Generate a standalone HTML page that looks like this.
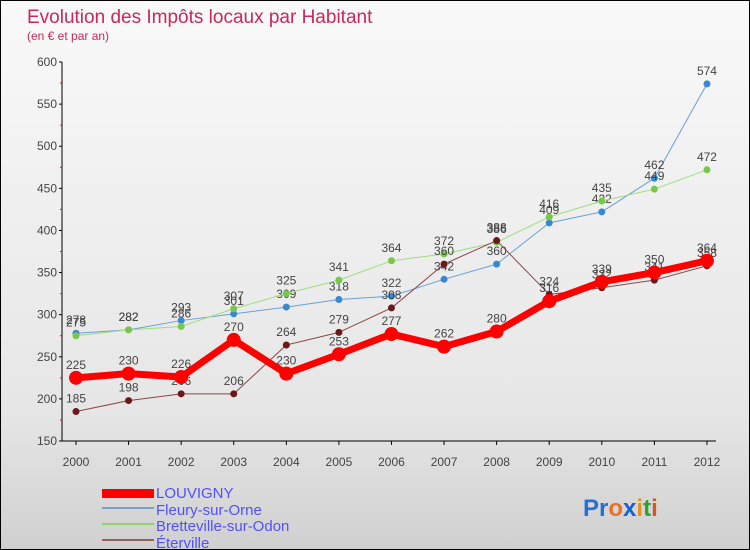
<!DOCTYPE html>
<html><head><meta charset="utf-8"><style>
body{margin:0;}
#c{width:750px;height:550px;position:relative;box-sizing:border-box;border:1px solid #000;background:linear-gradient(#f9f9f9,#e6e6e6 75%,#d0d0d0);overflow:hidden;font-family:"Liberation Sans",sans-serif;}
svg text{font-family:"Liberation Sans",sans-serif;}
</style></head><body>
<div id="c">
<svg id="s" width="750" height="550">
<text x="26" y="22" font-size="19" fill="#c8285a">Evolution des Impôts locaux par Habitant</text>
<text x="26" y="39" font-size="12" fill="#c8285a">(en € et par an)</text>
<g id="axes"></g><g id="series"></g>
<g>
<rect x="101" y="488" width="52" height="9" fill="#f00"/>
<text x="155" y="497" font-size="15" fill="#5050ff">LOUVIGNY</text>
<rect x="101" y="506" width="52" height="2" fill="#7aa0c8"/>
<text x="155" y="514" font-size="15" fill="#5050ff">Fleury-sur-Orne</text>
<rect x="101" y="522" width="52" height="2" fill="#90d070"/>
<text x="155" y="530" font-size="15" fill="#5050ff">Bretteville-sur-Odon</text>
<rect x="101" y="538" width="52" height="2" fill="#906060"/>
<text x="155" y="547" font-size="15" fill="#5050ff">Éterville</text>
</g>
<text x="582" y="515" font-size="24" font-weight="bold"><tspan fill="#2a6fd0">Pr</tspan><tspan fill="#e8702a">o</tspan><tspan fill="#1a60d0">x</tspan><tspan fill="#e89020">i</tspan><tspan fill="#30a030">t</tspan><tspan fill="#e05020">i</tspan></text>
</svg>
</div>
<script>
const years=["2000","2001","2002","2003","2004","2005","2006","2007","2008","2009","2010","2011","2012"];
const yTicks=[150,200,250,300,350,400,450,500,550,600];
const louvigny=[225,230,226,270,230,253,277,262,280,316,339,350,364];
const fleury=[278,282,293,301,309,318,322,342,360,409,422,462,574];
const bretteville=[275,282,286,307,325,341,364,372,386,416,435,449,472];
const eterville=[185,198,206,206,264,279,308,360,388,324,332,341,358];
const NS="http://www.w3.org/2000/svg";
const x=i=>75+i*52.58;
const y=v=>440-(v-150)*379/450;
function mk(t,a,p){const e=document.createElementNS(NS,t);for(const k in a)e.setAttribute(k,a[k]);p.appendChild(e);return e;}
const ax=document.getElementById('axes');
let e=mk('line',{x1:61,y1:y(600),x2:61,y2:y(150),stroke:'#000'},ax);


e=mk('line',{x1:61,y1:y(150),x2:715,y2:y(150),stroke:'#000'},ax);


yTicks.forEach(v=>{
 const t=mk('text',{x:56,y:y(v)+4,'font-size':12,fill:'#444','text-anchor':'end'},ax);t.textContent=v;
 
 
 mk('line',{x1:58,y1:y(v),x2:61,y2:y(v),stroke:'#000'},ax);
 if(v<600){const m=mk('line',{x1:59,y1:y(v+25),x2:61,y2:y(v+25),stroke:'#f00'},ax);}
});
years.forEach((yr,i)=>{
 const t=mk('text',{x:x(i),y:465,'font-size':12,fill:'#444','text-anchor':'middle'},ax);t.textContent=yr;
 
 
 mk('line',{x1:x(i),y1:440,x2:x(i),y2:444,stroke:'#000'},ax);
});
const sg=document.getElementById('series');
function series(name,vals,color,dot,w,r){
 const g=mk('g',{},sg);
 
 
 const l=mk('polyline',{points:vals.map((v,i)=>x(i)+','+y(v)).join(' '),fill:'none',stroke:color,'stroke-width':w,'stroke-linejoin':'round'},g);
 
 
 vals.forEach((v,i)=>{
  const c=mk('circle',{cx:x(i),cy:y(v),r:r,fill:dot},g);
  
  
  const t=mk('text',{x:x(i),y:y(v)-9,'font-size':12,fill:'#444','text-anchor':'middle'},g);t.textContent=v;
  
  
 });
}
series('fleury',fleury,'#6aa0d8','#3a88d0',1,3.5);
series('bretteville',bretteville,'#a0dc80','#78c848',1,3.5);
series('eterville',eterville,'#8a4848','#6a1818',1,3.5);
series('louvigny',louvigny,'#f00','#f00',7,7);
</script>
</body></html>
